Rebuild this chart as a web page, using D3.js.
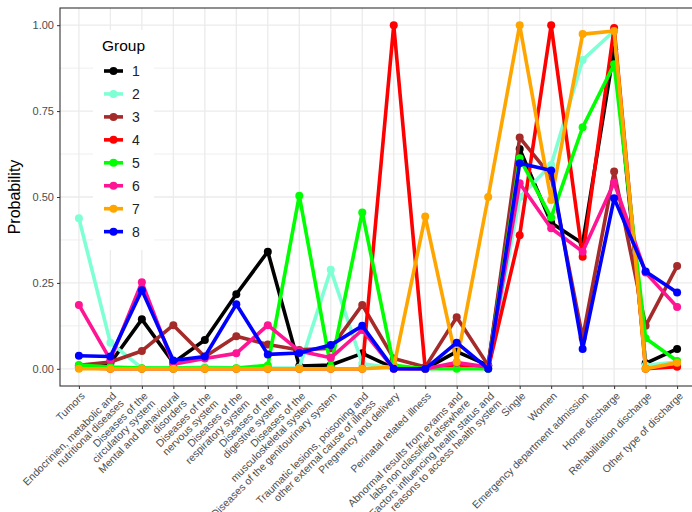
<!DOCTYPE html>
<html>
<head>
<meta charset="utf-8">
<script src="https://cdn.jsdelivr.net/npm/d3@7"></script>
<style>
  html, body { margin: 0; padding: 0; background: #fff; }
  svg { display: block; font-family: "Liberation Sans", Arial, sans-serif; }
</style>
</head>
<body>
<svg id="chart" width="692" height="512"></svg>
<script>
const categories = [
  "Tumors",
  "Endocrinien, metabolic and\nnutritional diseases",
  "Diseases of the\ncirculatory system",
  "Mental and behavioural\ndisorders",
  "Diseases of the\nnervous system",
  "Diseases of the\nrespiratory system",
  "Diseases of the\ndigestive system",
  "Diseases of the\nmusculoskeletal system",
  "Diseases of the genitourinary system",
  "Traumatic lesions, poisoning and\nother external cause of illness",
  "Pregnancy and delivery",
  "Perinatal related illness",
  "Abnormal results from exams and\nlabs non classified elsewhere",
  "Factors influencing health status and\nreasons to access health system",
  "Single",
  "Women",
  "Emergency department admission",
  "Home discharge",
  "Rehabilitation discharge",
  "Other type of discharge"
];

const groups = ["1", "2", "3", "4", "5", "6", "7", "8"];
const groupColors = ["#000000", "#7FFFD4", "#A52A2A", "#FF0000", "#00FF00", "#FF1493", "#FFA500", "#0000FF"];

const group1 = [0.005, 0.017, 0.144, 0.018, 0.084, 0.217, 0.341, 0.008, 0.011, 0.045, 0.002, 0.0, 0.050, 0.010, 0.640, 0.425, 0.365, 0.930, 0.016, 0.058];
const group2 = [0.438, 0.076, 0.002, 0.002, 0.005, 0.002, 0.002, 0.003, 0.288, 0.015, 0.002, 0.0, 0.005, 0.0, 0.500, 0.593, 0.899, 0.983, 0.010, 0.020];
const group3 = [0.010, 0.020, 0.052, 0.127, 0.035, 0.095, 0.071, 0.055, 0.060, 0.186, 0.030, 0.005, 0.150, 0.010, 0.673, 0.560, 0.090, 0.574, 0.125, 0.299];
const group4 = [0.003, 0.0, 0.0, 0.0, 0.0, 0.0, 0.0, 0.0, 0.0, 0.0, 1.000, 0.0, 0.010, 0.0, 0.389, 1.000, 0.326, 0.992, 0.0, 0.006];
const group5 = [0.011, 0.005, 0.002, 0.002, 0.002, 0.002, 0.010, 0.504, 0.005, 0.455, 0.010, 0.0, 0.0, 0.0, 0.613, 0.440, 0.703, 0.886, 0.089, 0.023];
const group6 = [0.186, 0.026, 0.252, 0.013, 0.030, 0.045, 0.127, 0.052, 0.032, 0.113, 0.0, 0.0, 0.018, 0.005, 0.540, 0.409, 0.341, 0.542, 0.280, 0.180];
const group7 = [0.0, 0.0, 0.0, 0.0, 0.0, 0.0, 0.0, 0.0, 0.0, 0.0, 0.005, 0.443, 0.020, 0.500, 1.000, 0.491, 0.974, 0.983, 0.0, 0.018];
const group8 = [0.038, 0.036, 0.229, 0.024, 0.036, 0.188, 0.042, 0.046, 0.069, 0.125, 0.0, 0.0, 0.076, 0.0, 0.598, 0.577, 0.058, 0.496, 0.283, 0.222];
const seriesValues = [group1, group2, group3, group4, group5, group6, group7, group8];

const yTicks = [0, 0.25, 0.5, 0.75, 1.0];
const yTickLabels = ["0.00", "0.25", "0.50", "0.75", "1.00"];
const yMinor = [0.125, 0.375, 0.625, 0.875];

const svg = d3.select("#chart");
const panel = { left: 60, right: 696, top: 8, bottom: 386 };

const x = d3.scalePoint().domain(categories).range([panel.left, panel.right]).padding(0.6);
const y = d3.scaleLinear().domain([-0.05, 1.05]).range([panel.bottom, panel.top]);

// panel background
svg.append("rect").attr("x", panel.left).attr("y", panel.top)
  .attr("width", panel.right - panel.left).attr("height", panel.bottom - panel.top)
  .attr("fill", "#fff");

const grid = svg.append("g");
grid.selectAll(".ymin").data(yMinor).join("line")
  .attr("x1", panel.left).attr("x2", panel.right)
  .attr("y1", d => y(d)).attr("y2", d => y(d))
  .attr("stroke", "#EBEBEB").attr("stroke-width", 0.8);
grid.selectAll(".ymaj").data(yTicks).join("line")
  .attr("x1", panel.left).attr("x2", panel.right)
  .attr("y1", d => y(d)).attr("y2", d => y(d))
  .attr("stroke", "#EBEBEB").attr("stroke-width", 1.3);
grid.selectAll(".xmaj").data(categories).join("line")
  .attr("x1", d => x(d)).attr("x2", d => x(d))
  .attr("y1", panel.top).attr("y2", panel.bottom)
  .attr("stroke", "#EBEBEB").attr("stroke-width", 1.3);

// series
const line = d3.line().x((d, i) => x(categories[i])).y(d => y(d));
const seriesG = svg.append("g");
seriesValues.forEach((vals, gi) => {
  const g = seriesG.append("g");
  g.append("path").datum(vals).attr("d", line)
    .attr("fill", "none").attr("stroke", groupColors[gi])
    .attr("stroke-width", 3.6).attr("stroke-linejoin", "round");
  g.selectAll("circle").data(vals).join("circle")
    .attr("cx", (d, i) => x(categories[i])).attr("cy", d => y(d))
    .attr("r", 4).attr("fill", groupColors[gi]);
});

// panel border
svg.append("rect").attr("x", panel.left).attr("y", panel.top)
  .attr("width", panel.right - panel.left).attr("height", panel.bottom - panel.top)
  .attr("fill", "none").attr("stroke", "#333333").attr("stroke-width", 1.1);

// y axis
const yAxis = d3.axisLeft(y).tickValues(yTicks).tickFormat((d, i) => yTickLabels[i]).tickSize(3).tickPadding(3);
const yg = svg.append("g").attr("transform", `translate(${panel.left},0)`).call(yAxis);
yg.select(".domain").remove();
yg.selectAll(".tick line").attr("stroke", "#333333");
yg.selectAll(".tick text").attr("fill", "#4D4D4D").style("font-size", "11px")
  .style("font-family", "'Liberation Sans', Arial, sans-serif");

// x axis
const xAxis = d3.axisBottom(x).tickSize(3).tickFormat("");
const xg = svg.append("g").attr("transform", `translate(0,${panel.bottom})`).call(xAxis);
xg.select(".domain").remove();
xg.selectAll(".tick line").attr("stroke", "#333333");

const xl = svg.append("g");
categories.forEach(c => {
  const lines = c.split("\n");
  const t = xl.append("text")
    .attr("transform", `translate(${x(c) + 1},${panel.bottom + 5}) rotate(-45)`)
    .attr("text-anchor", "end")
    .attr("fill", "#4D4D4D")
    .style("font-size", "10.5px");
  lines.forEach((ln, i) => {
    t.append("tspan").attr("x", 0).attr("y", 0).attr("dy", (0.75 + i * 1.0) + "em").text(ln);
  });
});

// y title
svg.append("text")
  .attr("transform", `translate(20,${(y(0) + y(1)) / 2}) rotate(-90)`)
  .attr("text-anchor", "middle")
  .attr("fill", "#000")
  .style("font-size", "16px")
  .text("Probability");

// legend
const lg = svg.append("g");
lg.append("rect").attr("x", 93).attr("y", 30).attr("width", 61).attr("height", 220).attr("fill", "#fff");
lg.append("text").attr("x", 102).attr("y", 51).attr("fill", "#000").style("font-size", "15.5px").text("Group");
groups.forEach((gname, i) => {
  const cy = 71 + i * 22.95;
  lg.append("line").attr("x1", 104).attr("x2", 123).attr("y1", cy).attr("y2", cy)
    .attr("stroke", groupColors[i]).attr("stroke-width", 3.6);
  lg.append("circle").attr("cx", 113.5).attr("cy", cy).attr("r", 4).attr("fill", groupColors[i]);
  lg.append("text").attr("x", 132).attr("y", cy + 5).attr("fill", "#222").style("font-size", "14px").text(gname);
});
</script>
</body>
</html>
